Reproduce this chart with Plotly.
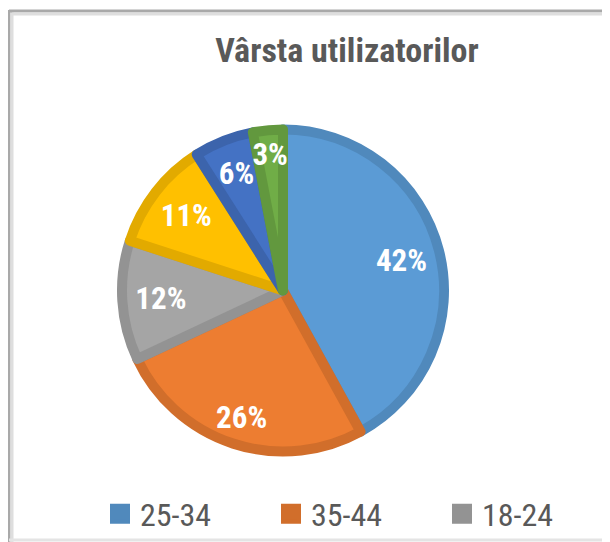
import plotly.graph_objects as go

# date
age_groups = ["25-34", "35-44", "18-24", "45-54", "55-64", "65+"]
shares = [42, 26, 12, 11, 6, 3]
fill_colors = ["#5B9BD5", "#ED7D31", "#A5A5A5", "#FFC000", "#4472C4", "#70AD47"]
edge_colors = ["#5089BC", "#D16E2B", "#939393", "#E2AA00", "#3C64AC", "#62983E"]
legend_items = ["25-34", "35-44", "18-24"]

W, H = 610, 542
PAGE_OFF = 8  # marginea implicita a paginii html
FONT = "Liberation Sans Narrow, Roboto Condensed, Arial Narrow, Roboto, sans-serif"


def xp(x):
    return (x - PAGE_OFF) / W


def yp(y):
    return 1 - (y - PAGE_OFF) / H


def domain_for(radius):
    return dict(x=[xp(cx - radius), xp(cx + radius)], y=[yp(cy + radius), yp(cy - radius)])


fig = go.Figure()

cx, cy, r = 283, 290.5, 161
total = sum(shares)
pct_text = [f"{round(v / total * 100)}%" for v in shares]

# felia vizibila
fig.add_trace(go.Pie(
    labels=age_groups,
    values=shares,
    sort=False,
    direction="clockwise",
    rotation=0,
    domain=domain_for(r),
    marker=dict(colors=fill_colors, line=dict(color=edge_colors, width=10)),
    textinfo="none",
    showlegend=False,
    hoverinfo="label+percent",
))

# etichetele procentuale, in trei grupe ca sa stea unde sunt in original
label_groups = [
    (["25-34", "18-24", "45-54"], r),
    (["35-44"], 176),
    (["55-64", "65+"], 150),
]
for group, radius in label_groups:
    fig.add_trace(go.Pie(
        labels=age_groups,
        values=shares,
        sort=False,
        direction="clockwise",
        rotation=0,
        hole=0.52,
        domain=domain_for(radius),
        marker=dict(colors=["rgba(0,0,0,0)"] * len(shares), line=dict(width=0)),
        text=[t if g in group else "" for g, t in zip(age_groups, pct_text)],
        textinfo="text",
        textposition="inside",
        insidetextorientation="horizontal",
        textfont=dict(family=FONT, size=31, color="white", weight="bold"),
        showlegend=False,
        hoverinfo="skip",
    ))

# legenda: doar primele trei grupe sunt vizibile in original
for name in legend_items:
    i = age_groups.index(name)
    fig.add_trace(go.Scatter(
        x=[None], y=[None], mode="markers", name=name,
        marker=dict(symbol="square", size=16, color=edge_colors[i],
                    line=dict(color=edge_colors[i], width=4)),
    ))

# rama graficului (colt stanga-sus cu umbra)
frame = [
    dict(x0=9, x1=9, y0=10, y1=H + PAGE_OFF, color="#a9a9a9", w=3),
    dict(x0=12, x1=12, y0=12, y1=H + PAGE_OFF, color="#dedede", w=3),
    dict(x0=9, x1=W + PAGE_OFF, y0=11, y1=11, color="#a9a9a9", w=3),
    dict(x0=12, x1=W + PAGE_OFF, y0=14, y1=14, color="#dedede", w=3),
    dict(x0=607, x1=607, y0=12, y1=H + PAGE_OFF, color="#ececec", w=2),
    dict(x0=9, x1=W + PAGE_OFF, y0=540, y1=540, color="#e4e4e4", w=3),
]
for f in frame:
    fig.add_shape(type="line", xref="paper", yref="paper",
                  x0=xp(f["x0"]), x1=xp(f["x1"]), y0=yp(f["y0"]), y1=yp(f["y1"]),
                  line=dict(color=f["color"], width=f["w"]))

fig.update_layout(
    width=W, height=H,
    margin=dict(l=0, r=0, t=0, b=0, autoexpand=False),
    paper_bgcolor="white",
    plot_bgcolor="white",
    title=dict(text="Vârsta utilizatorilor", x=xp(347), xanchor="center",
               y=yp(50), yanchor="middle",
               font=dict(family=FONT, size=34, color="#595959", weight="bold")),
    legend=dict(orientation="h", x=xp(100), xanchor="left", y=yp(514), yanchor="middle",
                font=dict(family=FONT, size=32, color="#595959"),
                entrywidth=126, itemwidth=30, bgcolor="rgba(0,0,0,0)"),
    xaxis=dict(visible=False),
    yaxis=dict(visible=False),
    uniformtext=dict(minsize=31, mode="show"),
)

fig.write_html("out.html")
